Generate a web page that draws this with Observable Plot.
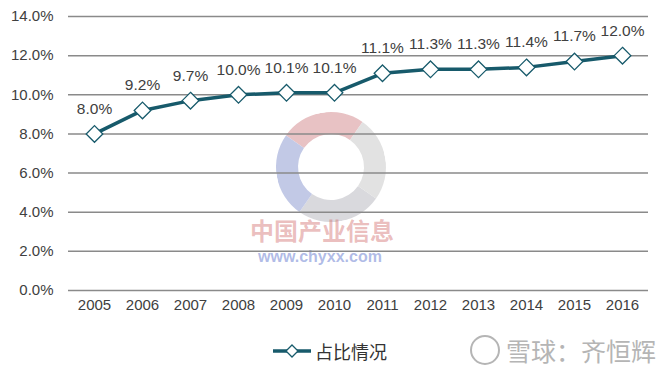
<!DOCTYPE html>
<html>
<head>
<meta charset="utf-8">
<script src="https://cdn.jsdelivr.net/npm/d3@7"></script>
<script src="https://cdn.jsdelivr.net/npm/@observablehq/plot@0.6"></script>
<style>
  body { margin: 0; background: #fff; font-family: "Liberation Sans", Arial, sans-serif; }
  #wrap { position: relative; width: 660px; height: 367px; overflow: hidden; }
  #chart { position: absolute; left: 0; top: 0; z-index: 2; }
  .logo { position: absolute; left: 276px; top: 112px; width: 66px; height: 66px; border-radius: 50%;
    border: 22px solid; border-color: rgba(205,120,125,0.45) rgba(190,190,190,0.45) rgba(170,170,180,0.45) rgba(120,135,200,0.45);
    transform: rotate(-10deg); z-index: 1; }
  .wm1 { position: absolute; left: 250px; top: 218px; line-height: 1; font: bold 24px/1 "Noto Sans CJK SC", sans-serif; color: rgba(210,110,110,0.45); z-index: 1; }
  .wm2 { position: absolute; left: 258px; top: 249px; font: bold 16px/1 "Liberation Sans", Arial, sans-serif; color: rgba(110,130,210,0.55); z-index: 1; }
  #legend { position: absolute; left: 0; width: 660px; top: 338px; display: flex; justify-content: center; align-items: center; z-index: 2;
    font: 18px "Noto Sans CJK SC", sans-serif; color: #333; }
  #legend svg { margin-right: 4px; }
  .xq { position: absolute; left: 470px; top: 332px; font: 25px "Noto Sans CJK SC", sans-serif; color: #b5b5b5; z-index: 2; display: flex; align-items: center; }
  .xq .c { width: 26px; height: 26px; border: 2px solid #b5b5b5; border-radius: 50%; margin-right: 6px; }
</style>
</head>
<body>
<div id="wrap">
  <div class="logo"></div>
  <div class="wm1">中国产业信息</div>
  <div class="wm2">www.chyxx.com</div>
  <div id="chart"></div>
  <div id="legend"></div>
  <div class="xq"><span class="c"></span>雪球：齐恒辉</div>
</div>
<script>
const years = ["2005","2006","2007","2008","2009","2010","2011","2012","2013","2014","2015","2016"];
const shares = [8.0, 9.2, 9.7, 10.0, 10.1, 10.1, 11.1, 11.3, 11.3, 11.4, 11.7, 12.0];
const yTicks = [0, 2, 4, 6, 8, 10, 12, 14];
const seriesName = "占比情况";

const data = years.map((y, i) => ({year: y, value: shares[i]}));
const lineColor = "#175a6b";

const chart = Plot.plot({
  width: 660,
  height: 322,
  marginLeft: 68,
  marginRight: 12,
  marginTop: 16,
  marginBottom: 32,
  style: {background: "transparent", fontFamily: "Liberation Sans, Arial, sans-serif", fontSize: "15px", color: "#404040"},
  x: {type: "point", domain: years, padding: 0.5, label: null},
  y: {domain: [0, 14], label: null},
  marks: [
    Plot.ruleY(yTicks, {stroke: "#8a8a8a", strokeWidth: 1.5}),
    Plot.axisY({ticks: yTicks, tickFormat: d => d.toFixed(1) + "%", tickSize: 0, tickPadding: 15, fontSize: 15, label: null}),
    Plot.axisX({tickSize: 0, tickPadding: 9, fontSize: 15, label: null}),
    Plot.line(data, {x: "year", y: "value", stroke: lineColor, strokeWidth: 3.5}),
    Plot.dot(data, {x: "year", y: "value", symbol: "diamond2", r: 7.5, fill: "white", stroke: lineColor, strokeWidth: 1.3}),
    Plot.text(data, {x: "year", y: "value", text: d => d.value.toFixed(1) + "%", dy: -25, fontSize: 15.5, fill: "#404040"})
  ]
});
document.getElementById("chart").appendChild(chart);

const legend = document.getElementById("legend");
legend.innerHTML = `<svg width="38" height="16"><line x1="0" y1="8" x2="38" y2="8" stroke="${lineColor}" stroke-width="3.5"/><path d="M19 2 L25 8 L19 14 L13 8 Z" fill="white" stroke="${lineColor}" stroke-width="1.3"/></svg><span>${seriesName}</span>`;
</script>
</body>
</html>
